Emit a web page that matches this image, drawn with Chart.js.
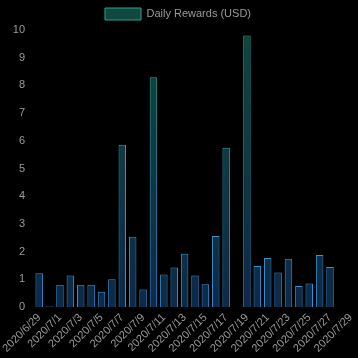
<!DOCTYPE html>
<html>
<head>
<meta charset="utf-8">
<script src="https://cdn.jsdelivr.net/npm/chart.js@4/dist/chart.umd.min.js"></script>
<style>
html,body{margin:0;padding:0;background:#000;}
#wrap{width:358px;height:358px;position:relative;}
</style>
</head>
<body>
<div id="wrap"><canvas id="c"></canvas></div>
<script>
const categories = ["2020/6/29","2020/6/30","2020/7/1","2020/7/2","2020/7/3","2020/7/4","2020/7/5","2020/7/6","2020/7/7","2020/7/8","2020/7/9","2020/7/10","2020/7/11","2020/7/12","2020/7/13","2020/7/14","2020/7/15","2020/7/16","2020/7/17","2020/7/18","2020/7/19","2020/7/20","2020/7/21","2020/7/22","2020/7/23","2020/7/24","2020/7/25","2020/7/26","2020/7/27","2020/7/28","2020/7/29"];
const dailyRewards = [1.22,0.03,0.8,1.14,0.8,0.8,0.55,1.0,5.86,2.54,0.63,8.29,1.17,1.43,1.92,1.14,0.82,2.56,5.75,0,9.8,1.48,1.77,1.25,1.74,0.76,0.85,1.88,1.44,0,0];
const seriesLabel = "Daily Rewards (USD)";
const yTicks = {min:0, max:10, step:1};

function grad(ctx, top, bottom){
  const ca = ctx.chart.chartArea;
  if(!ca) return top;
  const g = ctx.chart.ctx.createLinearGradient(0, ca.top, 0, ca.bottom);
  g.addColorStop(0, top);
  g.addColorStop(1, bottom);
  return g;
}

const FONT = "'Liberation Sans', Arial, sans-serif";
new Chart(document.getElementById('c'), {
  type: 'bar',
  data: {
    labels: categories,
    datasets: [{
      label: seriesLabel,
      data: dailyRewards,
      backgroundColor: (ctx) => grad(ctx, '#0f4741', '#0c2a4a'),
      borderColor: (ctx) => grad(ctx, '#2ea482', '#3b8fd6'),
      borderWidth: 1
    }]
  },
  options: {
    responsive: true,
    maintainAspectRatio: false,
    animation: false,
    layout: {padding: {left: 0, top: 0, bottom: 0, right: 2}},
    plugins: {
      legend: {
        labels: {
          color: '#9a9a9a',
          font: {family: FONT, size: 11},
          boxWidth: 36,
          boxHeight: 12,
          padding: 8
        }
      },
      tooltip: {enabled: false}
    },
    scales: {
      x: {
        grid: {display: false, drawTicks: false},
        border: {display: false},
        afterFit: (s) => { s.height = 51; s.paddingRight = 0; s.paddingLeft = 0; },
        ticks: {
          color: '#9a9a9a',
          font: {family: FONT, size: 11},
          maxRotation: 45,
          minRotation: 45,
          autoSkip: false,
          padding: 4,
          callback: function(v, i){ return i % 2 === 0 ? this.getLabelForValue(v) : ''; }
        }
      },
      y: {
        min: yTicks.min,
        max: yTicks.max,
        grid: {display: false, drawTicks: false},
        border: {display: false},
        afterFit: (s) => { s.width = 34; },
        ticks: {
          stepSize: yTicks.step,
          color: '#9a9a9a',
          padding: 9,
          font: {family: FONT, size: 11}
        }
      }
    }
  }
});
</script>
</body>
</html>
